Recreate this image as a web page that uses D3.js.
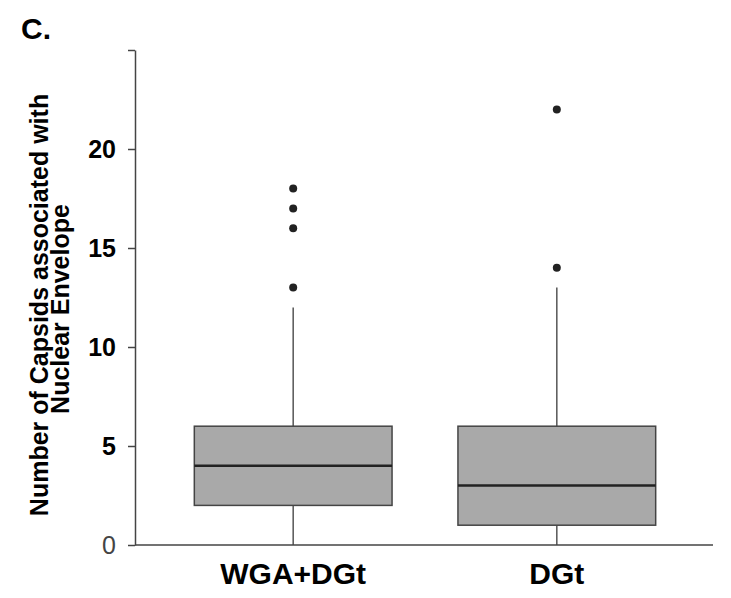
<!DOCTYPE html>
<meta charset="utf-8">
<style> /* set the CSS */
body { margin: 0; background: #fff; }
text { font-family: Arial, "Liberation Sans", sans-serif; }
.box {
  fill: #a9a9a9;
  stroke: #444;
  stroke-width: 1.5px;
}
.median {
  stroke: #222;
  stroke-width: 2.5px;
}
.whisker {
  stroke: #555;
  stroke-width: 1.5px;
}
.axis path, .axis line {
  stroke: #444;
  stroke-width: 1.5px;
}
</style>
<body>

<!-- load the d3.js library -->
<script src="https://d3js.org/d3.v7.min.js"></script>

<script>
// the data
var categories = ["WGA+DGt", "DGt"];
var q1 = [2, 1];
var medians = [4, 3];
var q3 = [6, 6];
var whiskerLow = [0, 0];
var whiskerHigh = [12, 13];
var outliers = [[13, 16, 17, 18], [14, 22]];
var yTicks = [0, 5, 10, 15, 20, 25];

// set the dimensions and margins of the graph
var margin = {top: 50, right: 16, bottom: 53, left: 135},
    width = 731 - margin.left - margin.right,
    height = 598 - margin.top - margin.bottom;

// set the ranges
var x = d3.scalePoint().domain(categories).range([0, width]).padding(0.6);
var y = d3.scaleLinear().domain([0, 25]).range([height, 0]);
var boxWidth = x.step() * 0.75;

var svg = d3.select("body").append("svg")
    .attr("width", 731)
    .attr("height", 598);

// panel letter
svg.append("text")
    .attr("x", 21)
    .attr("y", 39)
    .style("font-size", "30px")
    .style("font-weight", "bold")
    .text("C.");

var g = svg.append("g")
    .attr("transform", "translate(" + margin.left + "," + margin.top + ")");

var stats = categories.map(function(c, i) {
  return {cat: c, q1: q1[i], med: medians[i], q3: q3[i],
          lo: whiskerLow[i], hi: whiskerHigh[i], out: outliers[i]};
});

// whiskers
g.selectAll(".wlow")
    .data(stats)
  .enter().append("line")
    .attr("class", "whisker")
    .attr("x1", function(d) { return x(d.cat); })
    .attr("x2", function(d) { return x(d.cat); })
    .attr("y1", function(d) { return y(d.lo); })
    .attr("y2", function(d) { return y(d.q1); });

g.selectAll(".whigh")
    .data(stats)
  .enter().append("line")
    .attr("class", "whisker")
    .attr("x1", function(d) { return x(d.cat); })
    .attr("x2", function(d) { return x(d.cat); })
    .attr("y1", function(d) { return y(d.q3); })
    .attr("y2", function(d) { return y(d.hi); });

// boxes
g.selectAll(".box")
    .data(stats)
  .enter().append("rect")
    .attr("class", "box")
    .attr("x", function(d) { return x(d.cat) - boxWidth / 2; })
    .attr("width", boxWidth)
    .attr("y", function(d) { return y(d.q3); })
    .attr("height", function(d) { return y(d.q1) - y(d.q3); });

// medians
g.selectAll(".median")
    .data(stats)
  .enter().append("line")
    .attr("class", "median")
    .attr("x1", function(d) { return x(d.cat) - boxWidth / 2; })
    .attr("x2", function(d) { return x(d.cat) + boxWidth / 2; })
    .attr("y1", function(d) { return y(d.med); })
    .attr("y2", function(d) { return y(d.med); });

// outliers
var pts = [];
stats.forEach(function(d) {
  d.out.forEach(function(v) { pts.push({cat: d.cat, v: v}); });
});
g.selectAll(".dot")
    .data(pts)
  .enter().append("circle")
    .attr("r", 4)
    .attr("fill", "#222")
    .attr("cx", function(d) { return x(d.cat); })
    .attr("cy", function(d) { return y(d.v); });

// Add the X Axis (line only)
g.append("g")
    .attr("class", "axis")
    .attr("transform", "translate(0," + height + ")")
    .call(d3.axisBottom(x).tickSize(0).tickFormat(""))
    .select(".domain").attr("d", "M0,0H" + (width - 2));

// x labels
g.selectAll(".xlab")
    .data(categories)
  .enter().append("text")
    .attr("x", function(d) { return x(d); })
    .attr("y", height + 39)
    .attr("text-anchor", "middle")
    .style("font-size", "30px")
    .style("font-weight", "bold")
    .text(function(d) { return d; });

// Add the Y Axis
var yAxis = g.append("g")
    .attr("class", "axis")
    .call(d3.axisLeft(y).tickValues(yTicks).tickSize(7).tickSizeOuter(0)
        .tickFormat(function(d) { return d === 25 ? "" : d; }));
yAxis.selectAll("text")
    .attr("x", -19)
    .style("font-size", "25px")
    .style("font-weight", function(d) { return d === 0 ? "normal" : "bold"; })
    .style("fill", function(d) { return d === 0 ? "#444" : "#000"; });

// text label for the y axis
var ylab = svg.append("text")
    .attr("transform", "translate(48,305) rotate(-90)")
    .attr("text-anchor", "middle")
    .style("font-size", "25px")
    .style("font-weight", "bold");
ylab.append("tspan").attr("x", 0).attr("y", 0).text("Number of Capsids associated with");
ylab.append("tspan").attr("x", -4).attr("y", 21).text("Nuclear Envelope");
</script>
</body>
